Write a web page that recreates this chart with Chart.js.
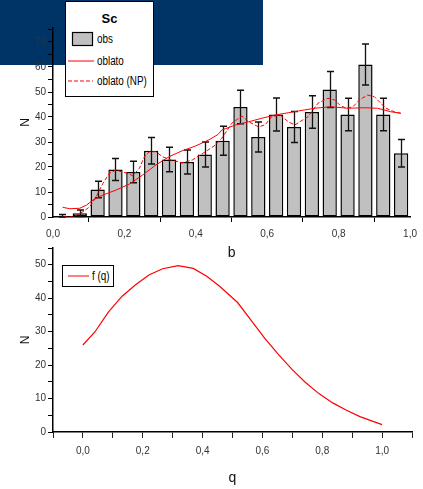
<!DOCTYPE html>
<html>
<head>
<meta charset="utf-8">
<script src="https://cdn.jsdelivr.net/npm/chart.js@4/dist/chart.umd.min.js"></script>
<style>
html,body{margin:0;padding:0;background:#fff;}
#wrap{position:relative;width:423px;height:489px;overflow:hidden;background:#fff;}
#banner{position:absolute;left:0;top:0;width:263px;height:65px;background:#003366;}
canvas{position:absolute;left:0;}
#c1{top:0;}
#c2{top:240px;}
.leg{position:absolute;background:#fff;border:1px solid #000;box-sizing:border-box;
  font-family:'Liberation Sans Narrow','Arial Narrow','Liberation Sans',Arial,sans-serif;color:#000;}
.leg span{position:absolute;white-space:nowrap;font-size:12px;line-height:14px;}
.leg span.nar{transform:scaleX(0.82);transform-origin:0 50%;}
.leg svg{position:absolute;left:0;top:0;}
</style>
</head>
<body>
<div id="wrap">
  <div id="banner"></div>
  <canvas id="c1" width="423" height="265"></canvas>
  <canvas id="c2" width="423" height="249"></canvas>
  <div class="leg" id="legTop" style="left:65px;top:1px;width:89px;height:96px;z-index:5;">
    <span id="legTitle" style="left:0;width:87px;text-align:center;top:10px;font-weight:bold;font-size:13px;"></span>
    <svg width="87" height="94">
      <rect x="6.5" y="30.5" width="20" height="13" fill="#C0C0C0" stroke="#000" stroke-width="1.2"/>
      <line x1="2" y1="59" x2="28" y2="59" stroke="#FF0000" stroke-width="1"/>
      <line x1="2" y1="79" x2="27" y2="79" stroke="#FF0000" stroke-width="1" stroke-dasharray="4,2"/>
    </svg>
    <span class="nar" id="legL0" style="left:31px;top:30px;"></span>
    <span class="nar" id="legL1" style="left:31px;top:52px;"></span>
    <span class="nar" id="legL2" style="left:31px;top:72px;"></span>
  </div>
  <div class="leg" id="legBot" style="left:62px;top:265px;width:52px;height:22px;z-index:5;">
    <svg width="50" height="20">
      <line x1="5" y1="10" x2="26" y2="10" stroke="#FF0000" stroke-width="1"/>
    </svg>
    <span class="nar" id="legF" style="left:29px;top:3px;"></span>
  </div>
</div>
<script>
// ---------------- data ----------------
const legendTitle = 'Sc';
const seriesNames = ['obs', 'oblato', 'oblato (NP)'];
const fSeriesName = 'f (q)';

// histogram bin centres (b) and observed counts with error bars
const bCenters  = [0.025, 0.075, 0.125, 0.175, 0.225, 0.275, 0.325, 0.375, 0.425, 0.475,
                   0.525, 0.575, 0.625, 0.675, 0.725, 0.775, 0.825, 0.875, 0.925, 0.975];
const obsCounts = [0, 1.5, 11, 19, 18, 26.5, 23, 22, 25, 30.5,
                   44, 32, 41, 36, 42, 51, 41, 61, 41, 25.5];
const obsErrors = [1, 1.3, 3.3, 4.4, 4.3, 5.3, 4.9, 4.8, 5.0, 5.8,
                   6.7, 6.0, 6.6, 6.2, 6.5, 7.2, 6.5, 8.2, 6.5, 5.5];

// "oblato" model curve
const oblatoB = [0.027, 0.047, 0.075, 0.094, 0.112, 0.140, 0.177, 0.214, 0.251, 0.288,
                 0.325, 0.362, 0.399, 0.436, 0.462, 0.473, 0.511, 0.548, 0.585, 0.622,
                 0.659, 0.687, 0.733, 0.779, 0.826, 0.872, 0.909, 0.946, 0.974];
const oblatoN = [3.9, 3.3, 3.5, 4.8, 6.8, 8.8, 10.8, 13.2, 16.8, 20.8,
                 24.1, 26.5, 28.4, 30.8, 33.0, 34.8, 36.8, 38.1, 39.5, 40.8,
                 41.7, 42.4, 43.5, 44.1, 43.5, 43.7, 43.5, 42.1, 41.5];

// "oblato (NP)" model curve
const oblatoNpB = [0.029, 0.056, 0.084, 0.103, 0.121, 0.140, 0.158, 0.177, 0.191, 0.209,
                   0.223, 0.242, 0.256, 0.270, 0.288, 0.307, 0.330, 0.362, 0.390, 0.427,
                   0.455, 0.473, 0.501, 0.529, 0.548, 0.575, 0.594, 0.612, 0.636, 0.659,
                   0.677, 0.714, 0.742, 0.770, 0.789, 0.803, 0.821, 0.840, 0.858, 0.881,
                   0.900, 0.918, 0.932, 0.956, 0.974];
const oblatoNpN = [0, 0, 2.1, 4.1, 8.1, 13.5, 17.5, 18.8, 18.1, 17.5,
                   16.5, 19.5, 24.1, 26.1, 26.1, 24.1, 22.8, 21.7, 22.8, 26.1,
                   28.8, 31.5, 37.5, 40.4, 38.1, 36.1, 36.8, 40.1, 40.8, 38.1,
                   36.8, 40.1, 45.5, 47.5, 46.8, 44.8, 43.5, 44.1, 46.8, 48.8,
                   48.1, 45.5, 43.5, 42.1, 41.5];

// f(q) curve
const qValues = [0.00, 0.04, 0.085, 0.131, 0.176, 0.222, 0.267, 0.318, 0.369, 0.415,
                 0.458, 0.517, 0.563, 0.608, 0.654, 0.699, 0.744, 0.790, 0.835, 0.881,
                 0.926, 0.972, 1.0];
const fValues = [26.0, 29.9, 35.8, 40.6, 44.0, 47.0, 48.8, 49.7, 48.9, 46.5,
                 43.5, 38.7, 33.3, 28.0, 23.1, 18.7, 14.8, 11.4, 8.7, 6.5,
                 4.6, 3.1, 2.2];

// tick values / labels
const bTickValues = [0, 0.1, 0.2, 0.3, 0.4, 0.5, 0.6, 0.7, 0.8, 0.9, 1.0];
const bTickLabels = ['0,0', '', '0,2', '', '0,4', '', '0,6', '', '0,8', '', '1,0'];
const nTopTickValues = [0, 5, 10, 15, 20, 25, 30, 35, 40, 45, 50, 55, 60, 65, 70, 75];
const nTopTickLabels = ['0', '', '10', '', '20', '', '30', '', '40', '', '50', '', '60', '', '70', ''];
const qTickValues = [-0.1, 0, 0.1, 0.2, 0.3, 0.4, 0.5, 0.6, 0.7, 0.8, 0.9, 1.0, 1.1];
const qTickLabels = ['', '0,0', '', '0,2', '', '0,4', '', '0,6', '', '0,8', '', '1,0', ''];
const nBotTickValues = [0, 5, 10, 15, 20, 25, 30, 35, 40, 45, 50, 55];
const nBotTickLabels = ['0', '', '10', '', '20', '', '30', '', '40', '', '50', ''];

// ---------------- legends (HTML text) ----------------
document.getElementById('legTitle').textContent = legendTitle;
document.getElementById('legL0').textContent = seriesNames[0];
document.getElementById('legL1').textContent = seriesNames[1];
document.getElementById('legL2').textContent = seriesNames[2];
document.getElementById('legF').textContent = fSeriesName;

// ---------------- chart setup ----------------
Chart.defaults.font.family = "'Liberation Sans Narrow','Arial Narrow','Liberation Sans',Arial,sans-serif";
Chart.defaults.font.size = 10;
Chart.defaults.color = '#333';

const fixedTicks = (vals) => (axis) => { axis.ticks = vals.map(v => ({ value: v })); };
const labelFrom = (labels) => (value, index) => labels[index];

const errorBarPlugin = {
  id: 'errorBars',
  afterDatasetDraw(chart, args) {
    if (args.index !== 0) return;
    const { ctx, scales: { x, y } } = chart;
    ctx.save();
    ctx.strokeStyle = '#111';
    ctx.lineWidth = 1.3;
    bCenters.forEach((b, i) => {
      const px = Math.round(x.getPixelForValue(b)) + 0.5;
      const top = y.getPixelForValue(obsCounts[i] + obsErrors[i]);
      const bot = y.getPixelForValue(Math.max(0, obsCounts[i] - obsErrors[i]));
      ctx.beginPath();
      ctx.moveTo(px, top); ctx.lineTo(px, bot);
      ctx.moveTo(px - 3.5, top); ctx.lineTo(px + 3.5, top);
      ctx.moveTo(px - 3.5, bot); ctx.lineTo(px + 3.5, bot);
      ctx.stroke();
    });
    ctx.restore();
  }
};

new Chart(document.getElementById('c1'), {
  type: 'bar',
  data: {
    datasets: [
      {
        type: 'bar', label: seriesNames[0],
        data: bCenters.map((b, i) => ({ x: b, y: obsCounts[i] })),
        backgroundColor: '#C0C0C0', borderColor: '#000', borderWidth: 1.5,
        borderSkipped: false, barPercentage: 0.8, categoryPercentage: 1.0, order: 2
      },
      {
        type: 'line', label: seriesNames[1],
        data: oblatoB.map((b, i) => ({ x: b, y: oblatoN[i] })),
        borderColor: '#FF0000', borderWidth: 1, pointRadius: 0, tension: 0, fill: false, order: 1
      },
      {
        type: 'line', label: seriesNames[2],
        data: oblatoNpB.map((b, i) => ({ x: b, y: oblatoNpN[i] })),
        borderColor: '#FF0000', borderWidth: 1, borderDash: [4, 2], pointRadius: 0, tension: 0, fill: false, order: 0
      }
    ]
  },
  options: {
    responsive: false, animation: false, events: [],
    layout: { padding: { left: 0, right: 10, top: 28, bottom: 0 } },
    plugins: { legend: { display: false }, tooltip: { enabled: false } },
    scales: {
      x: {
        type: 'linear', min: 0, max: 1, offset: false, bounds: 'data',
        afterBuildTicks: fixedTicks(bTickValues),
        afterFit: (s) => { s.height = 48; },
        grid: {
          offset: false, drawOnChartArea: false, drawTicks: true, tickLength: 5,
          tickColor: (c) => (c.index % 2 === 1 ? '#000' : 'rgba(0,0,0,0)')
        },
        border: { display: true, color: '#000', width: 1.5 },
        ticks: { callback: labelFrom(bTickLabels), autoSkip: false, maxRotation: 0, padding: 6, color: '#333' },
        title: { display: true, text: 'b', font: { size: 14 }, color: '#111', padding: { top: 0, bottom: 3 } }
      },
      y: {
        type: 'linear', min: 0, max: 75.6, bounds: 'data',
        afterBuildTicks: fixedTicks(nTopTickValues),
        afterFit: (s) => { s.width = 53; },
        grid: { drawOnChartArea: false, drawTicks: true, tickLength: 5, tickColor: '#000' },
        border: { display: true, color: '#000', width: 1.5 },
        ticks: { callback: labelFrom(nTopTickLabels), autoSkip: false, padding: 2, color: '#333' },
        title: { display: true, text: 'N', font: { size: 12 }, color: '#111', padding: { top: 18, bottom: 0 } }
      }
    }
  },
  plugins: [errorBarPlugin]
});

new Chart(document.getElementById('c2'), {
  type: 'scatter',
  data: {
    datasets: [{
      label: fSeriesName,
      data: qValues.map((q, i) => ({ x: q, y: fValues[i] })),
      showLine: true, borderColor: '#FF0000', borderWidth: 1.2, pointRadius: 0, tension: 0, fill: false
    }]
  },
  options: {
    responsive: false, animation: false, events: [],
    layout: { padding: { left: 0, right: 11, top: 4, bottom: 0 } },
    plugins: { legend: { display: false }, tooltip: { enabled: false } },
    scales: {
      x: {
        type: 'linear', min: -0.1, max: 1.1, bounds: 'data',
        afterBuildTicks: fixedTicks(qTickValues),
        afterFit: (s) => { s.height = 57; },
        grid: { drawOnChartArea: false, drawTicks: true, tickLength: 6, tickColor: '#222' },
        border: { display: true, color: '#000', width: 1.5 },
        ticks: { callback: labelFrom(qTickLabels), autoSkip: false, maxRotation: 0, padding: 7, color: '#333' },
        title: { display: true, text: 'q', font: { size: 14 }, color: '#111', padding: { top: 0, bottom: 2.5 } }
      },
      y: {
        type: 'linear', min: 0, max: 55, bounds: 'data',
        afterBuildTicks: fixedTicks(nBotTickValues),
        afterFit: (s) => { s.width = 53; },
        grid: { drawOnChartArea: false, drawTicks: true, tickLength: 5, tickColor: '#000' },
        border: { display: true, color: '#000', width: 1.5 },
        ticks: { callback: labelFrom(nBotTickLabels), autoSkip: false, padding: 2, color: '#333' },
        title: { display: true, text: 'N', font: { size: 12 }, color: '#111', padding: { top: 18, bottom: 0 } }
      }
    }
  }
});
</script>
</body>
</html>
